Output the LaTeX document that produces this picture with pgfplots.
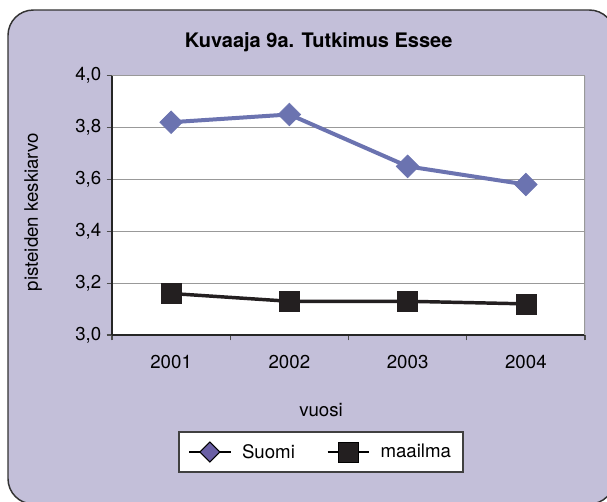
\documentclass[border=0pt]{standalone}
\usepackage{pgfplots}
\pgfplotsset{compat=1.18}
\usepackage{fontspec}
\setmainfont{TeX Gyre Heros}
\definecolor{bgl}{HTML}{C3BFD9}
\definecolor{suomi}{HTML}{6B73B0}
\definecolor{suomileg}{HTML}{6A5FA5}
\definecolor{mlm}{HTML}{231F20}
\begin{document}
\begin{tikzpicture}
\useasboundingbox (0,0) rectangle (455.25pt,-375.75pt);
\begin{scope}
\clip (0,0) rectangle (455.25pt,-375.75pt);
\draw[line width=1.1pt, draw=black!80, fill=bgl, rounded corners=19pt] (6pt,-7.5pt) rectangle (461pt,-378pt);
\end{scope}
\begin{axis}[
  at={(84pt,-251.25pt)}, anchor=south west,
  scale only axis, width=354.75pt, height=194.6pt,
  xmin=0.5, xmax=4.5, ymin=3, ymax=4,
  axis lines*=left,
  axis line style={line width=2.2pt, draw=black!85},
  xtick={0.5,1.5,2.5,3.5,4.5},
  xticklabels={2001,2002,2003,2004},
  x tick label as interval,
  ytick={3,3.2,3.4,3.6,3.8,4},
  tick align=outside, major tick length=4pt,
  tick style={line width=0.9pt, black!70},
  ymajorgrids, grid style={line width=0.9pt, gray!80},
  axis background/.style={fill=white},
  /pgf/number format/.cd, use comma, fixed, fixed zerofill, precision=1, assume math mode=true,
  /pgfplots/.cd,
  tick label style={font=\fontsize{14}{16}\selectfont},
  xticklabel style={yshift=-7.5pt},
  yticklabel style={xshift=-0.5pt},
  title={Kuvaaja 9a. Tutkimus Essee},
  title style={font=\fontsize{15}{18}\selectfont\bfseries, at={(axis description cs:0.437,1.098)}, anchor=center},
  xlabel={vuosi},
  xlabel style={font=\fontsize{14}{16}\selectfont, at={(axis description cs:0.442,-0.289)}, anchor=center},
  ylabel={pisteiden keskiarvo},
  ylabel style={font=\fontsize{14}{16}\selectfont, at={(axis description cs:-0.167,0.474)}, anchor=center, rotate=0},
  legend columns=2,
  legend style={at={(axis description cs:0.442,-0.451)}, anchor=center, draw=black!75, line width=0.9pt, fill=white,
    font=\fontsize{14}{16}\selectfont, inner xsep=7pt, inner ysep=7pt,
    /tikz/every odd column/.append style={column sep=6pt},
    /tikz/every even column/.append style={column sep=22pt}},
]
\draw[gray!80, line width=0.9pt] (rel axis cs:1,0) -- (rel axis cs:1,1);
\addplot[suomi, line width=3pt, mark=square*, mark size=6pt,
  mark options={rotate=45, draw=suomi, fill=suomi, line width=0.5pt},
  legend image code/.code={
    \draw[black, line width=1.2pt] (0pt,0pt) -- (31pt,0pt);
    \draw[black, fill=suomileg, line width=0.8pt] (15.5pt,7.5pt) -- (23pt,0pt) -- (15.5pt,-7.5pt) -- (8pt,0pt) -- cycle;}]
  coordinates {(1,3.82) (2,3.85) (3,3.65) (4,3.58)};
\addlegendentry{Suomi}
\addplot[mlm, line width=2.6pt, mark=square*, mark size=7.5pt,
  mark options={draw=mlm, fill=mlm, line width=0.5pt},
  legend image code/.code={
    \draw[black, line width=1.2pt] (0pt,0pt) -- (31pt,0pt);
    \draw[black, fill=mlm, line width=0.5pt] (8pt,-7.5pt) rectangle (23pt,7.5pt);}]
  coordinates {(1,3.16) (2,3.13) (3,3.13) (4,3.12)};
\addlegendentry{maailma}
\end{axis}
\end{tikzpicture}
\end{document}
